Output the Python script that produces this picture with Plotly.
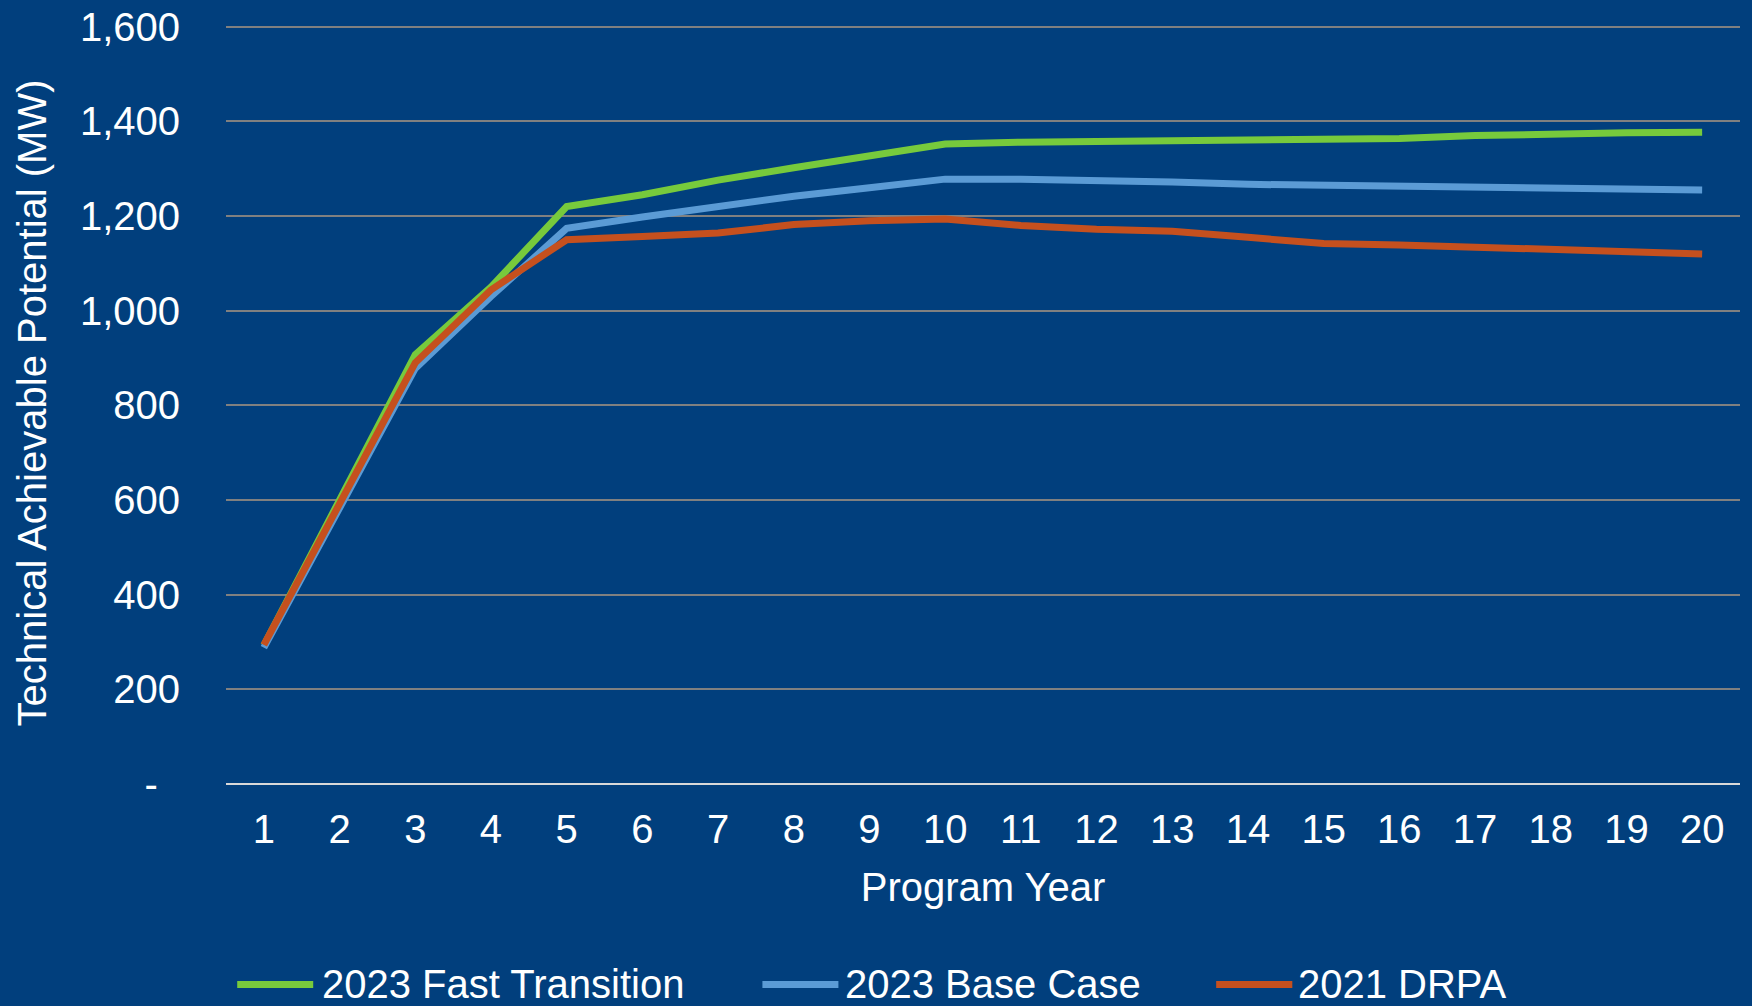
import plotly.graph_objects as go

# Program years and technical achievable potential (MW) by scenario
years = list(range(1, 21))
fast_transition_2023 = [293, 600, 907, 1050, 1220, 1245, 1276, 1302, 1326, 1352,
                        1356, 1358, 1360, 1362, 1364, 1364, 1370, 1374, 1376, 1377]
base_case_2023 = [288, 585, 878, 1030, 1174, 1198, 1220, 1242, 1260, 1278,
                  1278, 1276, 1272, 1267, 1265, 1263, 1263, 1262, 1259, 1255]
drpa_2021 = [294, 595, 890, 1044, 1150, 1157, 1164, 1182, 1190, 1194,
             1180, 1172, 1168, 1155, 1142, 1139, 1134, 1130, 1123, 1120]

series_names = ["2023 Fast Transition", "2023 Base Case", "2021 DRPA"]
series_values = [fast_transition_2023, base_case_2023, drpa_2021]
series_colors = ["#77CA3C", "#5B9BD5", "#C5501E"]

y_tickvals = [0, 200, 400, 600, 800, 1000, 1200, 1400, 1600]
y_ticktext = ["-\u00a0\u00a0", "200", "400", "600", "800", "1,000", "1,200", "1,400", "1,600"]

BG = "#013F7D"
FONT = "Liberation Sans, Arial, sans-serif"
TXT = "#FFFFFF"

fig = go.Figure()
for name, vals, col in zip(series_names, series_values, series_colors):
    fig.add_trace(go.Scatter(
        x=years, y=vals, name=name, mode="lines",
        line=dict(color=col, width=7),
        showlegend=False,
    ))

# Legend drawn as swatch + label pairs beneath the x-axis title
legend_pos = [(0.0074, 0.0576, 0.0623), (0.3543, 0.4045, 0.4078), (0.654, 0.7043, 0.7069)]
legend_y = -0.263
for (x0, x1, xt), name, col in zip(legend_pos, series_names, series_colors):
    fig.add_shape(type="line", xref="paper", yref="paper",
                  x0=x0, x1=x1, y0=legend_y, y1=legend_y,
                  line=dict(color=col, width=7))
    fig.add_annotation(xref="paper", yref="paper", x=xt, y=legend_y,
                       text=name, showarrow=False, xanchor="left", yanchor="middle",
                       font=dict(family=FONT, size=40, color=TXT))

fig.update_layout(
    width=1752, height=1006,
    paper_bgcolor=BG, plot_bgcolor=BG,
    margin=dict(l=226, r=12, t=22, b=222),
    font=dict(family=FONT, size=40, color=TXT),
    showlegend=False,
    xaxis=dict(
        range=[0.5, 20.5], tickvals=years, ticktext=[str(y) for y in years],
        showgrid=False, zeroline=False, showline=False, ticks="",
        ticklabelstandoff=18, automargin=False,
        title=dict(text="Program Year", standoff=22, font=dict(size=40, color=TXT)),
        tickfont=dict(size=40, color=TXT),
    ),
    yaxis=dict(
        range=[0, 1610], tickvals=y_tickvals, ticktext=y_ticktext,
        showgrid=True, gridcolor="#808080", gridwidth=2,
        zeroline=True, zerolinecolor="#D9D9D9", zerolinewidth=2,
        showline=False, ticks="", ticklabelstandoff=45, automargin=False,
        title=dict(text="Technical Achievable Potential (MW)", standoff=20,
                   font=dict(size=40, color=TXT)),
        tickfont=dict(size=40, color=TXT),
    ),
)

fig.write_html("out.html")
